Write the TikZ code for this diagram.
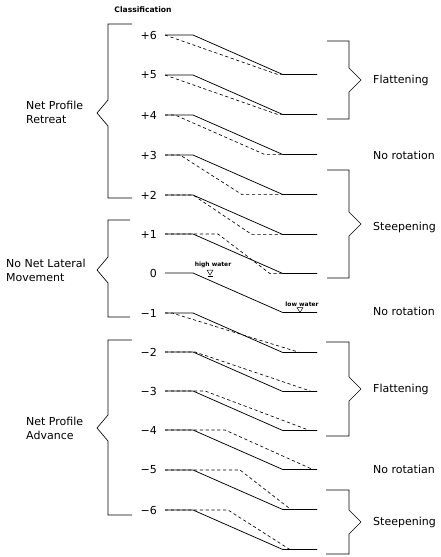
\documentclass[tikz,border=0pt]{standalone}
\usepackage{fontspec}
\setmainfont{DejaVu Sans}
\usetikzlibrary{positioning}
\tikzstyle{profile}=[line width=0.75pt]
\tikzstyle{shifted}=[line width=0.65pt, dash pattern=on 3.2pt off 2.6pt]
\tikzstyle{bracket}=[line width=0.65pt]
\tikzstyle{rowlabel}=[font=\fontsize{11}{13}\selectfont, inner sep=0pt, anchor=east]
\tikzstyle{group}=[font=\fontsize{11}{14}\selectfont, inner sep=0pt, align=left, anchor=west]
\tikzstyle{rotation}=[font=\fontsize{11}{13}\selectfont, inner sep=0pt, anchor=west]
\tikzstyle{water}=[font=\bfseries\fontsize{6}{7}\selectfont, inner sep=0pt]
\tikzstyle{level}=[line width=0.5pt]

\begin{document}
\begin{tikzpicture}[x=1pt, y=-1pt]
      \useasboundingbox (0,0) rectangle (441,557);

      \node [font=\bfseries\fontsize{7.6}{9}\selectfont, inner sep=0pt] (title) at (143,10) {Classification};

      \foreach \i/\lab/\yy/\a/\b in {p6/+6/35/165/278, p5/+5/75/165/278, p4/+4/115/175/265,
                                   p3/+3/155/180/242, p2/+2/195/193/252, p1/+1/234/218/270,
                                   m1/−1/313/172/300, m2/−2/352/195/312, m3/−3/391/205/310,
                                   m4/−4/430/225/313, m5/−5/470/240/291, m6/−6/510/228/290} {
        \node [rowlabel] (r\i) at (157,\yy) {\lab};
        \draw [shifted] (165,\yy) -- (\a,\yy) -- (\b,\yy+39.6) -- (317,\yy+39.6);
        \draw [profile] (165,\yy) -- (193,\yy) -- (283,\yy+39.6) -- (317,\yy+39.6);
      }

      \node [rowlabel] (r0) at (157,273) {0};
      \draw [profile] (165,273) -- (193,273) -- (283,312.6) -- (317,312.6);

      \node [water] (high) at (213,265) {high water};
      \draw [level] (207,270) -- (213,270) -- (210,275) -- cycle;
      \draw [level] (207.5,276) -- (212.5,276);
      \node [water] (low) at (302,304) {low water};
      \draw [level] (297,307.5) -- (303,307.5) -- (300,312.5) -- cycle;

      \draw [bracket] (132,24) -- (108,24) -- (108,100) -- (97,113) -- (108,126) -- (108,198) -- (132,198);
      \draw [bracket] (130,220) -- (108,220) -- (108,257) -- (97,270) -- (108,283) -- (108,317) -- (130,317);
      \draw [bracket] (132,340) -- (108,340) -- (108,415) -- (97,428) -- (108,441) -- (108,515) -- (132,515);

      \node [group] (retreat) at (26,112) {Net Profile\\Retreat};
      \node [group] (lateral) at (6,270) {No Net Lateral\\Movement};
      \node [group] (advance) at (26,428) {Net Profile\\Advance};

      \draw [bracket] (327,41) -- (349,41) -- (349,68) -- (361,80) -- (349,92) -- (349,119) -- (327,119);
      \draw [bracket] (327,170) -- (349,170) -- (349,212) -- (361,224) -- (349,236) -- (349,278) -- (327,278);
      \draw [bracket] (326,342) -- (349,342) -- (349,377) -- (361,389) -- (349,401) -- (349,436) -- (326,436);
      \draw [bracket] (326,490) -- (349,490) -- (349,510) -- (361,522) -- (349,534) -- (349,554) -- (326,554);

      \node [rotation] (flat1) at (373,80) {Flattening};
      \node [rotation] (none1) at (373,155) {No rotation};
      \node [rotation] (steep1) at (373,227) {Steepening};
      \node [rotation] (none2) at (373,311) {No rotation};
      \node [rotation] (flat2) at (373,389) {Flattening};
      \node [rotation] (none3) at (373,469) {No rotatian};
      \node [rotation] (steep2) at (373,522) {Steepening};
\end{tikzpicture}
\end{document}
